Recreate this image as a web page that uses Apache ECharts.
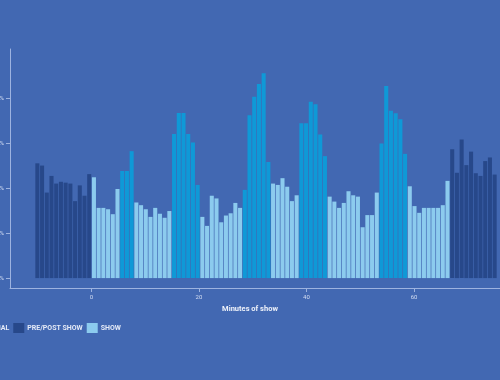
<!DOCTYPE html>
<html><head><meta charset="utf-8">
<script src="https://cdn.jsdelivr.net/npm/echarts@6/dist/echarts.min.js"></script>
<style>html,body{margin:0;padding:0;background:#4268b2;}#c{width:500px;height:380px;}</style>
</head><body><div id="c"></div>
<script>
// legend / series names
const seriesNames = ['COMMERCIAL', 'PRE/POST SHOW', 'SHOW'];
const seriesColors = ['#0f99d7', '#27488a', '#8ccbee'];
// axis ticks
const xTickValues = [0, 20, 40, 60];
const yTickValues = [0, 10, 20, 30, 40];
const xAxisName = 'Minutes of show';
// bar values (share, %) read segment by segment, left to right
const preShow = [25.5, 25.0, 19.0, 22.7, 21.0, 21.4, 21.2, 21.0, 17.1, 20.6, 18.3, 23.1];
const show1 = [22.4, 15.6, 15.6, 15.3, 14.2, 19.8];
const ad1 = [23.8, 23.8, 28.2];
const show2 = [16.8, 16.2, 15.3, 13.6, 15.6, 14.3, 13.4, 14.9];
const ad2 = [32.0, 36.7, 36.7, 32.0, 30.1, 20.7];
const show3 = [13.6, 11.6, 18.3, 17.7, 12.4, 13.9, 14.4, 16.7, 15.6];
const ad3 = [19.6, 36.2, 40.3, 43.1, 45.5, 25.8];
const show4 = [21.0, 20.7, 22.2, 20.3, 17.1, 18.4];
const ad4 = [34.4, 34.4, 39.2, 38.6, 31.9, 27.1];
const show5 = [18.1, 17.0, 15.6, 16.7, 19.3, 18.4, 18.1, 11.3, 14.0, 14.0, 19.0];
const ad5 = [29.9, 42.7, 37.2, 36.6, 35.3, 27.6];
const show6 = [20.4, 16.0, 14.5, 15.6, 15.6, 15.6, 15.6, 16.2, 21.6];
const postShow = [28.6, 23.4, 30.8, 25.1, 28.1, 23.3, 22.7, 26.0, 26.8, 23.0];

const segments = [
  ['PRE/POST SHOW', preShow], ['SHOW', show1], ['COMMERCIAL', ad1], ['SHOW', show2],
  ['COMMERCIAL', ad2], ['SHOW', show3], ['COMMERCIAL', ad3], ['SHOW', show4],
  ['COMMERCIAL', ad4], ['SHOW', show5], ['COMMERCIAL', ad5], ['SHOW', show6],
  ['PRE/POST SHOW', postShow]
];

const slots = [];
const dataByName = {};
seriesNames.forEach(n => dataByName[n] = []);
segments.forEach(([name, vals]) => {
  vals.forEach(v => {
    slots.push(String(slots.length));
    seriesNames.forEach(n => dataByName[n].push(n === name ? v : '-'));
  });
});

const yMin = -2.2, yMax = 50.9;
const axisColor = '#9db3e0';
const labelColor = '#d3ddf2';
const font = 'Roboto';

const chart = echarts.init(document.getElementById('c'), null, {renderer: 'canvas'});
chart.setOption({
  backgroundColor: '#4268b2',
  animation: false,
  textStyle: {fontFamily: font},
  legend: {
    left: -55, top: 318, itemWidth: 11, itemHeight: 10, itemGap: 4,
    icon: 'rect',
    data: seriesNames,
    textStyle: {color: '#e4eaf7', fontSize: 7, fontWeight: 'bold', fontFamily: font, padding: [0, 0, 0, -2]}
  },
  grid: [
    {left: 35, right: 3, top: 49, bottom: 92, containLabel: false, outerBoundsMode: 'none'},
    {left: 10, right: 0, top: 49, bottom: 92, containLabel: false, outerBoundsMode: 'none'}
  ],
  xAxis: [
    {type: 'category', gridIndex: 0, data: slots, show: false},
    {type: 'value', gridIndex: 1, min: -15.16, max: 76,
      axisLine: {show: true, onZero: false, lineStyle: {color: axisColor, width: 1}},
      axisTick: {show: true, length: 4, lineStyle: {color: axisColor}, customValues: xTickValues},
      axisLabel: {color: labelColor, fontSize: 6, margin: 6, customValues: xTickValues},
      splitLine: {show: false},
      name: xAxisName, nameLocation: 'middle', nameGap: 10,
      nameTextStyle: {color: '#eef2fa', fontSize: 7.5, fontWeight: 'bold', padding: [0, 10, 0, 0]}
    }
  ],
  yAxis: [
    {type: 'value', gridIndex: 0, min: yMin, max: yMax, show: false, splitLine: {show: false}},
    {type: 'value', gridIndex: 1, min: yMin, max: yMax,
      axisLine: {show: true, onZero: false, lineStyle: {color: axisColor, width: 1}},
      axisTick: {show: true, length: 4, inside: false, lineStyle: {color: axisColor}, customValues: yTickValues},
      axisLabel: {color: labelColor, fontSize: 6, margin: 6, customValues: yTickValues, formatter: v => v + '%'},
      splitLine: {show: false}
    }
  ],
  series: seriesNames.map((n, i) => ({
    name: n, type: 'bar', xAxisIndex: 0, yAxisIndex: 0,
    data: dataByName[n], barGap: '-100%', barCategoryGap: '14%',
    itemStyle: {color: seriesColors[i]}
  }))
});
</script></body></html>
